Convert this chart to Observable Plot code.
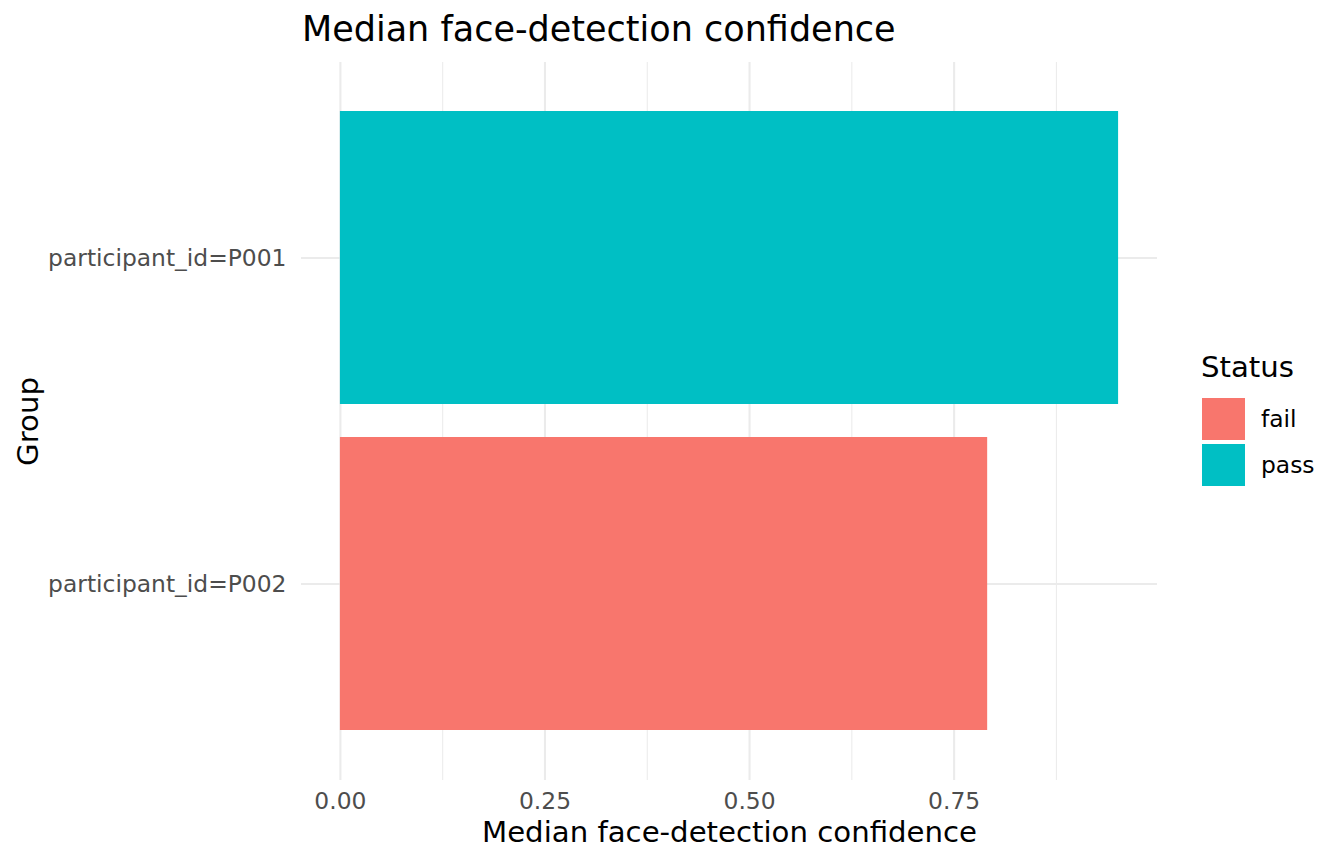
<!DOCTYPE html>
<html>
<head>
<meta charset="utf-8">
<script src="https://cdn.jsdelivr.net/npm/d3@7"></script>
<script src="https://cdn.jsdelivr.net/npm/@observablehq/plot@0.6"></script>
<style>
  body { margin: 0; background: #fff; font-family: "DejaVu Sans", sans-serif; }
  #wrap { position: relative; width: 1344px; height: 864px; overflow: hidden; }
  #title { position: absolute; left: 302px; top: 7px; font-size: 35px; line-height: 44px; color: #000; white-space: nowrap; }
  #legend { position: absolute; left: 1190px; top: 340px; }
</style>
</head>
<body>
<div id="wrap">
  <div id="chart"></div>
  <div id="title">Median face-detection confidence</div>
  <svg id="legend" width="150" height="160"></svg>
</div>
<script>
const groups = ["participant_id=P001", "participant_id=P002"];
const confidence = [0.951, 0.791];
const status = ["pass", "fail"];
const statusLevels = ["fail", "pass"];
const statusColors = ["#F8766D", "#00BFC4"];
const majorTicks = [0, 0.25, 0.5, 0.75];
const minorTicks = [0.125, 0.375, 0.625, 0.875];

const data = groups.map((g, i) => ({group: g, value: confidence[i], status: status[i]}));

const maxV = d3.max(confidence);
const pad = maxV * 0.05;

const plot = Plot.plot({
  width: 1344,
  height: 864,
  marginLeft: 301,
  marginRight: 187,
  marginTop: 62,
  marginBottom: 84,
  style: {fontFamily: "DejaVu Sans, sans-serif", background: "#fff"},
  x: {domain: [-pad, maxV + pad]},
  y: {domain: groups, paddingInner: 0.1, paddingOuter: 0.15},
  color: {domain: statusLevels, range: statusColors},
  marks: [
    Plot.ruleX(minorTicks, {stroke: "#EBEBEB", strokeWidth: 1.05}),
    Plot.ruleX(majorTicks, {stroke: "#EBEBEB", strokeWidth: 2.1}),
    Plot.gridY(groups, {stroke: "#EBEBEB", strokeOpacity: 1, strokeWidth: 2.1}),
    Plot.barX(data, {x: "value", y: "group", fill: "status"}),
    Plot.axisX(majorTicks, {tickSize: 0, tickPadding: 12, fontSize: 23.4, fill: "#4D4D4D", tickFormat: d3.format(".2f"), label: null}),
    Plot.axisY(groups, {tickSize: 0, tickPadding: 15, fontSize: 23.4, fill: "#4D4D4D", label: null}),
    Plot.text(["Median face-detection confidence"], {frameAnchor: "bottom", lineAnchor: "middle", textAnchor: "middle", dy: 52, fontSize: 29.2, fill: "#000"}),
    Plot.text(["Group"], {frameAnchor: "left", lineAnchor: "middle", textAnchor: "middle", dx: -273, rotate: -90, fontSize: 29.2, fill: "#000"})
  ]
});
document.getElementById("chart").appendChild(plot);

// Legend
const lg = d3.select("#legend");
lg.append("text").attr("x", 11).attr("y", 37).attr("font-size", 29.2).attr("fill", "#000").text("Status");
statusLevels.forEach((s, i) => {
  const y0 = 58 + i * 46;
  lg.append("rect").attr("x", 12).attr("y", y0).attr("width", 43).attr("height", 42).attr("fill", statusColors[i]);
  lg.append("text").attr("x", 71).attr("y", y0 + 21).attr("dy", "0.35em").attr("font-size", 23.4).attr("fill", "#000").text(s);
});
</script>
</body>
</html>
